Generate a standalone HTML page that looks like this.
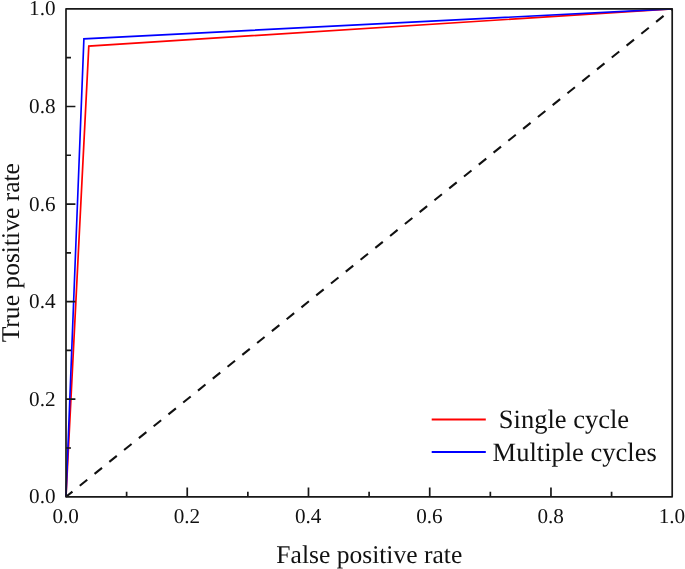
<!DOCTYPE html>
<html lang="en">
<head>
<meta charset="utf-8">
<title>ROC curve</title>
<style>
html,body{margin:0;padding:0;background:#fff;}
body{width:685px;height:569px;overflow:hidden;}
svg{display:block;}
text{text-rendering:geometricPrecision;font-family:"Liberation Serif","Times New Roman",serif;fill:#111;}
.tk{font-size:21.2px;}
.ti{font-size:25.55px;}
.lg{font-size:26.5px;}
</style>
</head>
<body>
<svg width="685" height="569" viewBox="0 0 685 569">
<rect x="0" y="0" width="685" height="569" fill="#ffffff"/>
<polyline points="66.0,496.8 88.8,46.1 672.2,8.9" fill="none" stroke="#ff0000" stroke-width="1.7" stroke-linejoin="miter"/>
<polyline points="66.0,496.8 83.9,38.85 672.2,8.9" fill="none" stroke="#0000ff" stroke-width="1.65" stroke-linejoin="miter"/>
<line x1="66.0" y1="496.8" x2="672.2" y2="8.9" stroke="#111" stroke-width="2.1" stroke-dasharray="9.6 9.37" stroke-dashoffset="1.3"/>
<path d="M126.62,496.8 v-5.0 M66.0,448.01 h5.0 M187.24,496.8 v-9.4 M66.0,399.22 h9.4 M247.86,496.8 v-5.0 M66.0,350.43 h5.0 M308.48,496.8 v-9.4 M66.0,301.64 h9.4 M369.10,496.8 v-5.0 M66.0,252.85 h5.0 M429.72,496.8 v-9.4 M66.0,204.06 h9.4 M490.34,496.8 v-5.0 M66.0,155.27 h5.0 M550.96,496.8 v-9.4 M66.0,106.48 h9.4 M611.58,496.8 v-5.0 M66.0,57.69 h5.0" fill="none" stroke="#181818" stroke-width="1.7"/>
<rect x="66.0" y="8.9" width="606.20" height="487.90" fill="none" stroke="#181818" stroke-width="1.7" stroke-linejoin="round"/>
<text class="tk" x="65.70" y="523.1" text-anchor="middle">0.0</text>
<text class="tk" x="186.94" y="523.1" text-anchor="middle">0.2</text>
<text class="tk" x="308.18" y="523.1" text-anchor="middle">0.4</text>
<text class="tk" x="429.42" y="523.1" text-anchor="middle">0.6</text>
<text class="tk" x="550.66" y="523.1" text-anchor="middle">0.8</text>
<text class="tk" x="671.90" y="523.1" text-anchor="middle">1.0</text>
<text class="tk" x="55.6" y="503.30" text-anchor="end">0.0</text>
<text class="tk" x="55.6" y="405.72" text-anchor="end">0.2</text>
<text class="tk" x="55.6" y="308.14" text-anchor="end">0.4</text>
<text class="tk" x="55.6" y="210.56" text-anchor="end">0.6</text>
<text class="tk" x="55.6" y="112.98" text-anchor="end">0.8</text>
<text class="tk" x="55.6" y="15.40" text-anchor="end">1.0</text>
<text class="ti" x="369.3" y="563.1" text-anchor="middle">False positive rate</text>
<text class="ti" transform="translate(18.9,252.7) rotate(-90)" text-anchor="middle">True positive rate</text>
<line x1="431.7" y1="419.5" x2="485.8" y2="419.5" stroke="#ff0000" stroke-width="1.8"/>
<line x1="431.7" y1="452.0" x2="485.8" y2="452.0" stroke="#0000ff" stroke-width="1.8"/>
<text class="lg" x="498.8" y="428.3">Single cycle</text>
<text class="lg" x="492.6" y="460.9">Multiple cycles</text>
</svg>
</body>
</html>
